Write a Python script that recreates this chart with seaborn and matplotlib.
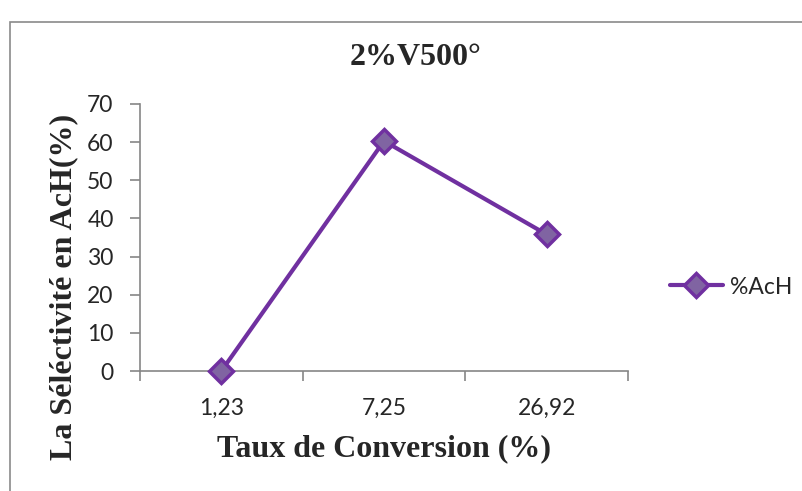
import matplotlib
matplotlib.use("Agg")
import matplotlib.pyplot as plt
from matplotlib.patches import Rectangle
from matplotlib.lines import Line2D
import seaborn as sns
import pandas as pd

# Data
conversion = ["1,23", "7,25", "26,92"]
selectivity = [0.0, 60.3, 35.8]
series_name = "%AcH"

y_ticks = [0, 10, 20, 30, 40, 50, 60, 70]

sns.set_theme(style="white")
plt.rcParams["font.family"] = ["Lato", "DejaVu Sans"]

line_color = "#7030A0"
marker_fill = "#8064A2"
axis_gray = "#868686"
tick_size = 16.5
label_size = 23

df = pd.DataFrame({"pos": range(len(conversion)), "sel": selectivity})

fig = plt.figure(figsize=(8.03, 4.91), dpi=100)
ax = fig.add_axes([140 / 803, 1 - 371 / 491, (628 - 140) / 803, (371 - 104) / 491])

line_kw = dict(color=line_color, linewidth=3.0, marker="D", markersize=12,
               markerfacecolor=marker_fill, markeredgecolor=line_color, markeredgewidth=2.5)
sns.lineplot(data=df, x="pos", y="sel", ax=ax, clip_on=False, legend=False, zorder=5, **line_kw)

ax.set_xlim(-0.5, len(conversion) - 0.5)
ax.set_ylim(0, 70)
ax.set_yticks(y_ticks)
ax.set_yticklabels([str(v) for v in y_ticks], fontsize=tick_size)

# category boundaries carry the tick marks, labels sit at the centres
ax.set_xticks([i - 0.5 for i in range(len(conversion) + 1)])
ax.set_xticklabels([])
ax.set_xticks(range(len(conversion)), minor=True)
ax.set_xticklabels(conversion, minor=True, fontsize=tick_size)
ax.tick_params(axis="x", which="major", bottom=True, direction="out", length=7, width=1.2,
               color=axis_gray)
ax.tick_params(axis="x", which="minor", bottom=True, length=0, pad=19)
ax.tick_params(axis="y", left=True, direction="out", length=7, width=1.2, color=axis_gray, pad=12)

for side in ("top", "right"):
    ax.spines[side].set_visible(False)
for side in ("left", "bottom"):
    ax.spines[side].set_color(axis_gray)
    ax.spines[side].set_linewidth(1.2)

serif = ["Liberation Serif", "DejaVu Serif"]
ax.set_xlabel("Taux de Conversion (%)", fontsize=label_size, fontweight="bold", family=serif)
ax.xaxis.set_label_coords(0.5, (371 - 434) / 267)
ax.set_ylabel("La Séléctivité en AcH(%)", fontsize=label_size, fontweight="bold", family=serif)
ax.yaxis.set_label_coords((78 - 140) / 488, (371 - 287) / 267)
fig.text(416 / 803, 1 - 65 / 491, "2%V500°", fontsize=label_size, fontweight="bold", family=serif,
         ha="center", va="baseline")

handle = Line2D([], [], **line_kw)
fig.legend([handle], [series_name], loc="center left", bbox_to_anchor=(670 / 803, 1 - 287 / 491),
           frameon=False, fontsize=tick_size, handlelength=2.3, handletextpad=0.3,
           borderpad=0, borderaxespad=0)

# chart-area border
fig.patches.append(Rectangle((10 / 803, -0.01), 1.0, 1 - 22 / 491 + 0.01, transform=fig.transFigure,
                             fill=False, edgecolor="#8a8a8a", linewidth=1.2))

fig.savefig("out.png", dpi=100)
